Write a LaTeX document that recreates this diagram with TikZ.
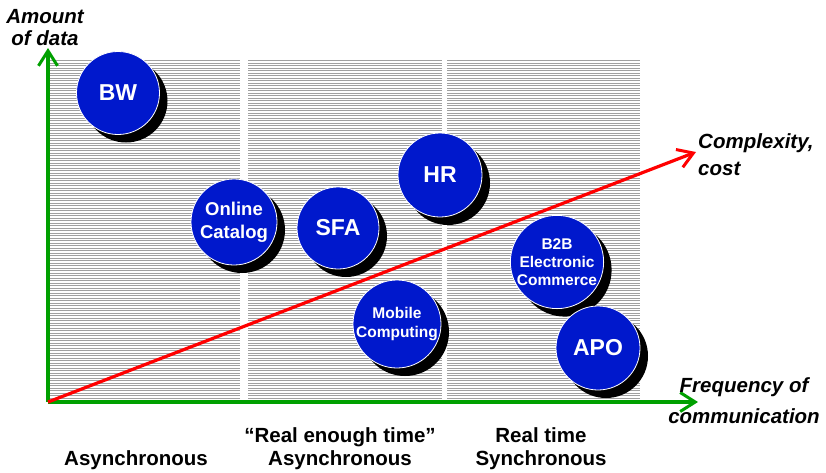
\documentclass[tikz,border=0pt]{standalone}
\usepackage{fontspec}
\setmainfont{Liberation Sans}
\usetikzlibrary{arrows.meta,shadows}
\definecolor{discblue}{RGB}{0,24,204}
\definecolor{axisgreen}{RGB}{0,160,0}
\definecolor{hatchgray}{RGB}{160,160,160}
\definecolor{linered}{RGB}{255,0,0}
\begin{document}
\begin{tikzpicture}[x=1pt,y=-1pt,
  disc/.style={circle,fill=discblue,draw=white,line width=0.8pt,text=white,
    align=center,inner sep=0pt,minimum size=#1,
    drop shadow={shadow xshift=8pt,shadow yshift=-8pt,fill=black,opacity=1}},
  disc/.default=84,
  bigtxt/.style={font=\bfseries\fontsize{23}{26}\selectfont},
  midtxt/.style={font=\bfseries\fontsize{18.5}{23}\selectfont},
  smalltxt/.style={font=\bfseries\fontsize{15.5}{18.3}\selectfont},
  axislab/.style={font=\bfseries\itshape\fontsize{20.5}{22}\selectfont,inner sep=0pt},
  zonelab/.style={font=\bfseries\fontsize{20.5}{23}\selectfont,inner sep=0pt,align=center},
  axisline/.style={draw=axisgreen,line width=3.5pt,
    -{Straight Barb[length=15pt,width=19pt,line width=3pt]}},
  trendline/.style={draw=linered,line width=3.2pt,
    -{Straight Barb[length=15pt,width=19pt,line width=3pt]}},
  hatchline/.style={draw=hatchgray,line width=0.95pt}
]
\useasboundingbox (0,0) rectangle (826,472);
% hatched zones
\foreach \xa/\xb in {50/240,248/442,447/640}{
  \foreach \yy in {60.5,63,...,400}{
    \draw[hatchline] (\xa,\yy) -- (\xb,\yy);
  }
}
% axes
\coordinate (O) at (48,402);
\coordinate (ytip) at (48,48);
\coordinate (xtip) at (698,402);
\coordinate (rtip) at (696,152);
\draw[axisline] (O) -- (ytip);
\draw[axisline] (O) -- (xtip);
\draw[trendline] (O) -- (rtip);
% discs
\node[disc=83,bigtxt] (bw) at (118,93) {BW};
\node[disc=86,midtxt] (oc) at (234,222) {Online\\Catalog};
\node[disc=82,bigtxt] (sfa) at (338,228) {SFA};
\node[disc=84,bigtxt] (hr) at (440,175) {HR};
\node[disc=88,smalltxt] (mc) at (397,324) {Mobile\\Computing};
\node[disc=88,smalltxt] (b2b) at (557,262) {B2B\\Electronic\\Commerce};
\node[disc=84,bigtxt] (apo) at (598,348) {APO};
% axis labels (base anchor = baseline of last line)
\node[axislab,align=center,anchor=base] (ylab) at (45,45) {Amount\\of data};
\node[axislab,align=center,anchor=base,font=\bfseries\itshape\fontsize{20.5}{31}\selectfont] (xlab) at (744,423) {Frequency of\\communication};
\node[axislab,align=left,anchor=base west,font=\bfseries\itshape\fontsize{20.5}{27}\selectfont] (clab) at (698,175) {Complexity,\\cost};
% zone labels
\node[zonelab,anchor=base] (z1) at (136,465) {Asynchronous};
\node[zonelab,anchor=base] (z2) at (340,465) {“Real enough time”\\Asynchronous};
\node[zonelab,anchor=base] (z3) at (541,465) {Real time\\Synchronous};
\end{tikzpicture}
\end{document}
